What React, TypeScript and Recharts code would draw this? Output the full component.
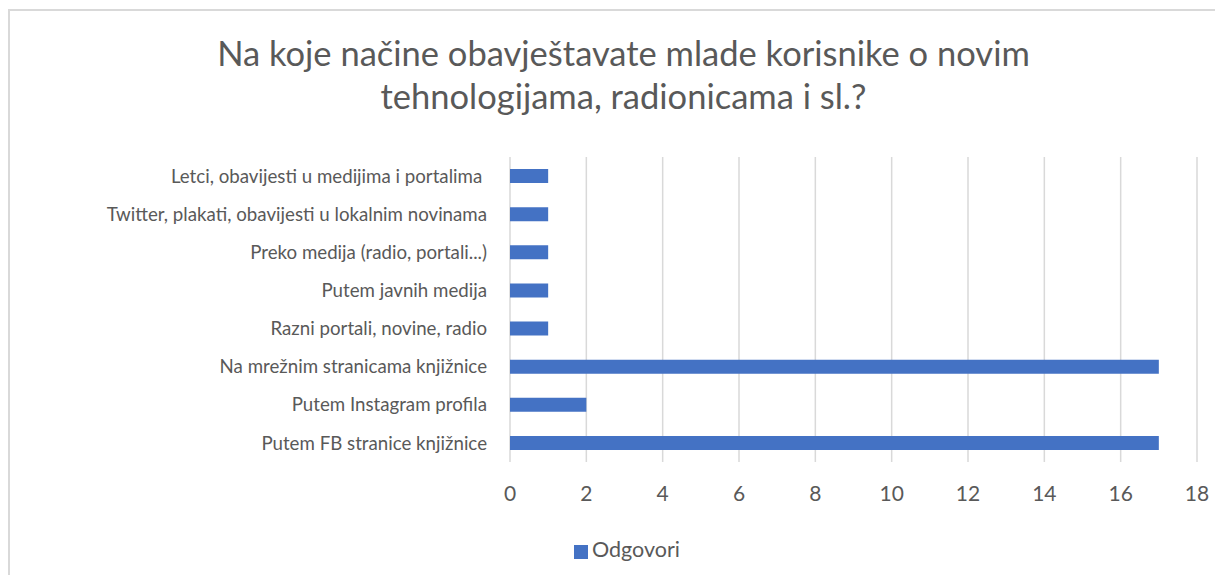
import React from "react";
import { BarChart, Bar, XAxis, YAxis, CartesianGrid, Legend } from "recharts";

const categories = [
  "Letci, obavijesti u medijima i portalima\u00a0",
  "Twitter, plakati, obavijesti u lokalnim novinama",
  "Preko medija (radio, portali...)",
  "Putem javnih medija",
  "Razni portali, novine, radio",
  "Na mrežnim stranicama knjižnice",
  "Putem Instagram profila",
  "Putem FB stranice knjižnice",
];
const odgovori = [1, 1, 1, 1, 1, 17, 2, 17];
const xTicks = [0, 2, 4, 6, 8, 10, 12, 14, 16, 18];
const titleLines = [
  "Na koje načine obavještavate mlade korisnike o novim",
  "tehnologijama, radionicama i sl.?",
];
const seriesName = "Odgovori";

const data = categories.map((name, i) => ({ name, value: odgovori[i] }));

const FONT = "Lato, 'Open Sans', sans-serif";
const GREY = "#595959";

export default function App() {
  return (
    <div style={{ position: "relative", width: 1215, height: 567, fontFamily: FONT }}>
      <div
        style={{
          position: "absolute",
          left: 0,
          top: 1,
          width: 1215,
          height: 566,
          borderTop: "2px solid #d9d9d9",
          borderLeft: "2px solid #d9d9d9",
          boxSizing: "border-box",
        }}
      />
      {titleLines.map((t, i) => (
        <div
          key={i}
          style={{
            position: "absolute",
            left: 0,
            width: 1231,
            top: 23 + i * 43,
            textAlign: "center",
            fontSize: 34.5,
            lineHeight: "43px",
            color: GREY,
            whiteSpace: "pre",
          }}
        >
          {t}
        </div>
      ))}
      <div style={{ position: "absolute", left: 0, top: 0 }}>
        <BarChart
          width={1215}
          height={567}
          data={data}
          layout="vertical"
          margin={{ top: 123, right: 26, bottom: 53, left: 0 }}
          barCategoryGap={12}
        >
          <CartesianGrid horizontal={false} vertical={true} stroke="#d9d9d9" strokeWidth={1.5} />
          <XAxis
            type="number"
            domain={[0, 18]}
            ticks={xTicks}
            interval={0}
            axisLine={false}
            tickLine={false}
            tickSize={0}
            tickMargin={24}
            tick={{ fill: GREY, fontSize: 21, fontFamily: FONT }}
            height={60}
          />
          <YAxis
            type="category"
            dataKey="name"
            width={502}
            axisLine={false}
            tickLine={false}
            tickSize={0}
            tickMargin={23}
            interval={0}
            tick={{ fill: GREY, fontSize: 18.7, fontFamily: FONT }}
          />
          <Bar
            dataKey="value"
            name={seriesName}
            fill="#4472C4"
            barSize={14}
            isAnimationActive={false}
          />
          <Legend
            iconType="square"
            iconSize={14}
            layout="horizontal"
            align="left"
            verticalAlign="top"
            wrapperStyle={{ left: 566, top: 528, width: "auto", fontSize: 21.5, fontFamily: FONT }}
            formatter={(v) => <span style={{ color: GREY }}>{v}</span>}
          />
        </BarChart>
      </div>
    </div>
  );
}
